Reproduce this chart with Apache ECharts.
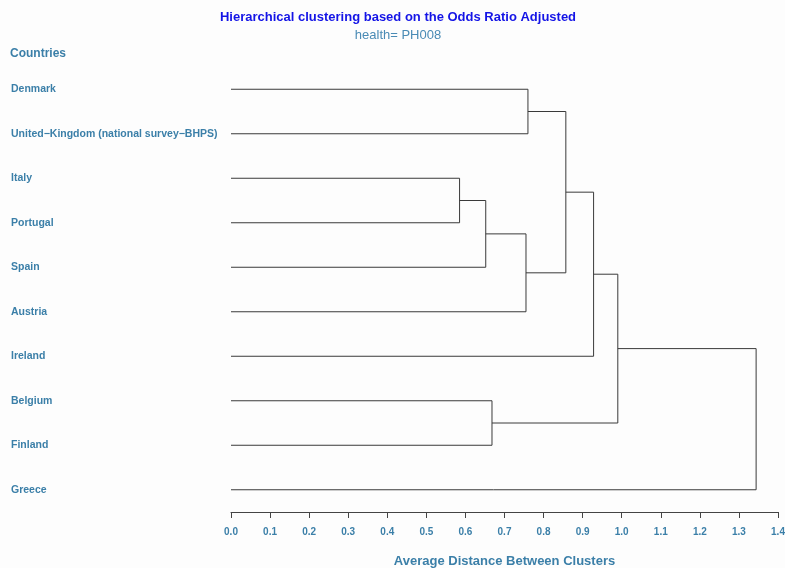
<!DOCTYPE html>
<html>
<head>
<meta charset="utf-8">
<script src="https://cdn.jsdelivr.net/npm/echarts@6/dist/echarts.min.js"></script>
<style>
html,body{margin:0;padding:0;background:#fdfdfd;}
#c{width:785px;height:568px;}
</style>
</head>
<body>
<div id="c"></div>
<script>
const countries = ["Denmark","United\u2212Kingdom (national survey\u2212BHPS)","Italy","Portugal","Spain","Austria","Ireland","Belgium","Finland","Greece"];
// merges: [childA, childB, height]; ids >= countries.length refer to earlier merges
const merges = [
  [2, 3, 0.585],
  [10, 4, 0.652],
  [7, 8, 0.668],
  [11, 5, 0.755],
  [0, 1, 0.760],
  [14, 13, 0.857],
  [15, 6, 0.928],
  [16, 12, 0.990],
  [17, 9, 1.344]
];
const xTicks = [0.0,0.1,0.2,0.3,0.4,0.5,0.6,0.7,0.8,0.9,1.0,1.1,1.2,1.3,1.4];

const labelColor = '#3b7fa8';
const font = '"Liberation Sans", Arial, sans-serif';

// node positions
const nodes = countries.map((c, i) => ({x: 0, y: i}));
const series = [];
merges.forEach(m => {
  const a = nodes[m[0]], b = nodes[m[1]], h = m[2];
  nodes.push({x: h, y: (a.y + b.y) / 2});
  series.push({
    type: 'line', xAxisIndex: 0, yAxisIndex: 1, symbol: 'none', silent: true,
    lineStyle: {color: '#3a3a3a', width: 1},
    data: [[a.x, a.y], [h, a.y], [h, b.y], [b.x, b.y]],
    animation: false
  });
});

const chart = echarts.init(document.getElementById('c'), null, {renderer: 'canvas'});
chart.setOption({
  backgroundColor: '#fdfdfd',
  animation: false,
  grid: {left: 231, right: 7, top: 67, bottom: 56, containLabel: false, outerBoundsMode: 'none'},
  graphic: [
    {type: 'text', x: 398, y: 11, style: {text: 'Hierarchical clustering based on the Odds Ratio Adjusted', textAlign: 'center', fill: '#1414e6', font: 'bold 13px ' + font}},
    {type: 'text', x: 398, y: 29, style: {text: 'health= PH008', textAlign: 'center', fill: '#4a8bb5', font: '13px ' + font}},
    {type: 'text', x: 10, y: 48, style: {text: 'Countries', fill: labelColor, font: 'bold 12px ' + font}}
  ],
  xAxis: [{
    type: 'value', min: 0, max: 1.4, interval: 0.1,
    axisLine: {show: true, onZero: false, lineStyle: {color: '#444', width: 1}},
    axisTick: {show: true, length: 6, lineStyle: {color: '#444'}},
    splitLine: {show: false},
    axisLabel: {color: labelColor, fontWeight: 'bold', fontSize: 10, fontFamily: font, margin: 15,
      formatter: v => v.toFixed(1)},
    name: 'Average Distance Between Clusters', nameLocation: 'middle', nameGap: 43,
    nameTextStyle: {color: labelColor, fontWeight: 'bold', fontSize: 13, fontFamily: font}
  }],
  yAxis: [{
    type: 'category', data: countries, inverse: true,
    axisLine: {show: false}, axisTick: {show: false}, splitLine: {show: false},
    axisLabel: {align: 'left', margin: 220, color: labelColor, fontWeight: 'bold', fontSize: 10.5, fontFamily: font}
  }, {
    type: 'value', min: -0.5, max: 9.5, inverse: true, show: false
  }],
  series: series
});
</script>
</body>
</html>
